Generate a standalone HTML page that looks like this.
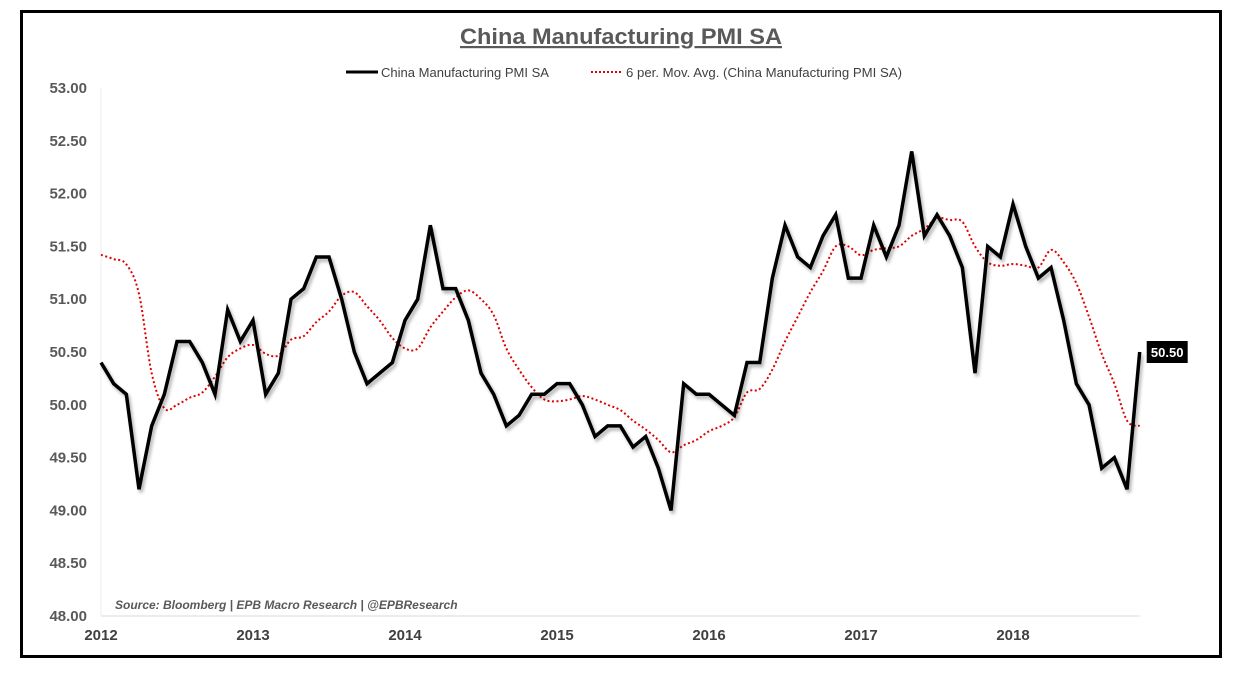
<!DOCTYPE html>
<html><head><meta charset="utf-8"><style>
html,body{margin:0;padding:0;background:#fff;}
body{width:1245px;height:682px;overflow:hidden;font-family:"Liberation Sans",sans-serif;}
</style></head><body>
<svg id="chart" width="1245" height="682" xmlns="http://www.w3.org/2000/svg">
<defs><filter id="sh" x="-5%" y="-5%" width="110%" height="110%"><feDropShadow dx="2" dy="3" stdDeviation="1.5" flood-color="#000" flood-opacity="0.3"/></filter></defs>
<rect x="21.5" y="11.5" width="1199" height="645" fill="#fff" stroke="#000" stroke-width="3"/>
<text x="621" y="44" text-anchor="middle" font-size="22" font-weight="bold" fill="#595959" text-decoration="underline" textLength="322" lengthAdjust="spacingAndGlyphs">China Manufacturing PMI SA</text>
<g>
<line x1="346" y1="72" x2="378" y2="72" stroke="#000" stroke-width="3"/>
<text x="381" y="77" font-size="13" fill="#404040" textLength="168" lengthAdjust="spacingAndGlyphs">China Manufacturing PMI SA</text>
<line x1="591" y1="72" x2="622" y2="72" stroke="#e00000" stroke-width="2" stroke-dasharray="2,2"/>
<text x="626" y="77" font-size="13" fill="#404040" textLength="276" lengthAdjust="spacingAndGlyphs">6 per. Mov. Avg. (China Manufacturing PMI SA)</text>
</g>
<text x="115" y="609" font-size="12" font-style="italic" font-weight="bold" fill="#595959">Source: Bloomberg | EPB Macro Research | @EPBResearch</text>
<g id="axes"></g>
<g id="plot"></g>
</svg>
<script>
const yTicks = [53.0,52.5,52.0,51.5,51.0,50.5,50.0,49.5,49.0,48.5,48.0];
const yearLabels = ["2012","2013","2014","2015","2016","2017","2018"];
const pmi = [
50.4,50.2,50.1,49.2,49.8,50.1,50.6,50.6,50.4,50.1,50.9,50.6,
50.8,50.1,50.3,51.0,51.1,51.4,51.4,51.0,50.5,50.2,50.3,50.4,
50.8,51.0,51.7,51.1,51.1,50.8,50.3,50.1,49.8,49.9,50.1,50.1,
50.2,50.2,50.0,49.7,49.8,49.8,49.6,49.7,49.4,49.0,50.2,50.1,
50.1,50.0,49.9,50.4,50.4,51.2,51.7,51.4,51.3,51.6,51.8,51.2,
51.2,51.7,51.4,51.7,52.4,51.6,51.8,51.6,51.3,50.3,51.5,51.4,
51.9,51.5,51.2,51.3,50.8,50.2,50.0,49.4,49.5,49.2,50.5];
const maLead = [51.42,51.38,51.33,51.05,50.3];
const lastLabel = "50.50";

const NS="http://www.w3.org/2000/svg";
const X0=101, MW=12.667, Y0=88, YMIN=48, YMAX=53, PH=528;
const xS=i=>X0+i*MW;
const yS=v=>Y0+(YMAX-v)/(YMAX-YMIN)*PH;
function mk(tag,attrs,parent){const e=document.createElementNS(NS,tag);for(const k in attrs)e.setAttribute(k,attrs[k]);parent.appendChild(e);return e;}
const axes=document.getElementById('axes'), plot=document.getElementById('plot');

yTicks.forEach(v=>{
  const t=mk('text',{x:87,y:yS(v)+5,'text-anchor':'end','font-size':15,'font-weight':'bold',fill:'#595959'},axes);
  
  
  t.textContent=v.toFixed(2);
});
const xl=mk('line',{x1:X0,y1:yS(48),x2:xS(pmi.length-1),y2:yS(48),stroke:'#d9d9d9','stroke-width':1},axes);


const yl=mk('line',{x1:X0,y1:yS(53),x2:X0,y2:yS(48),stroke:'#eeeeee','stroke-width':1},axes);


yearLabels.forEach((l,k)=>{
  const t=mk('text',{x:xS(k*12),y:640,'text-anchor':'middle','font-size':15,'font-weight':'bold',fill:'#404040'},axes);
  
  
  t.textContent=l;
});

// moving average
const ma=pmi.map((v,i)=>{
  if(i<maLead.length) return maLead[i];
  let s=0;for(let j=i-5;j<=i;j++)s+=pmi[j];return s/6;
});
function smooth(pts){
  let d=`M${pts[0][0]},${pts[0][1]}`;
  for(let i=0;i<pts.length-1;i++){
    const p0=pts[i-1]||pts[i],p1=pts[i],p2=pts[i+1],p3=pts[i+2]||p2;
    const c1=[p1[0]+(p2[0]-p0[0])/6,p1[1]+(p2[1]-p0[1])/6];
    const c2=[p2[0]-(p3[0]-p1[0])/6,p2[1]-(p3[1]-p1[1])/6];
    d+=` C${c1[0]},${c1[1]} ${c2[0]},${c2[1]} ${p2[0]},${p2[1]}`;
  }
  return d;
}
const maPath=mk('path',{d:smooth(ma.map((v,i)=>[xS(i),yS(v)])),fill:'none',stroke:'#e00000','stroke-width':2,'stroke-dasharray':'2,2.5'},plot);



const pmiLine=mk('polyline',{points:pmi.map((v,i)=>xS(i)+','+yS(v)).join(' '),fill:'none',stroke:'#000','stroke-width':3.5,'stroke-linejoin':'miter',filter:'url(#sh)'},plot);



const lx=xS(pmi.length-1), ly=yS(pmi[pmi.length-1]);
const lb=mk('rect',{x:lx+7,y:ly-11,width:41,height:22,fill:'#000'},plot);


const lt=mk('text',{x:lx+27.5,y:ly+5,'text-anchor':'middle','font-size':13,'font-weight':'bold',fill:'#fff'},plot);


lt.textContent=lastLabel;
</script>
</body></html>
